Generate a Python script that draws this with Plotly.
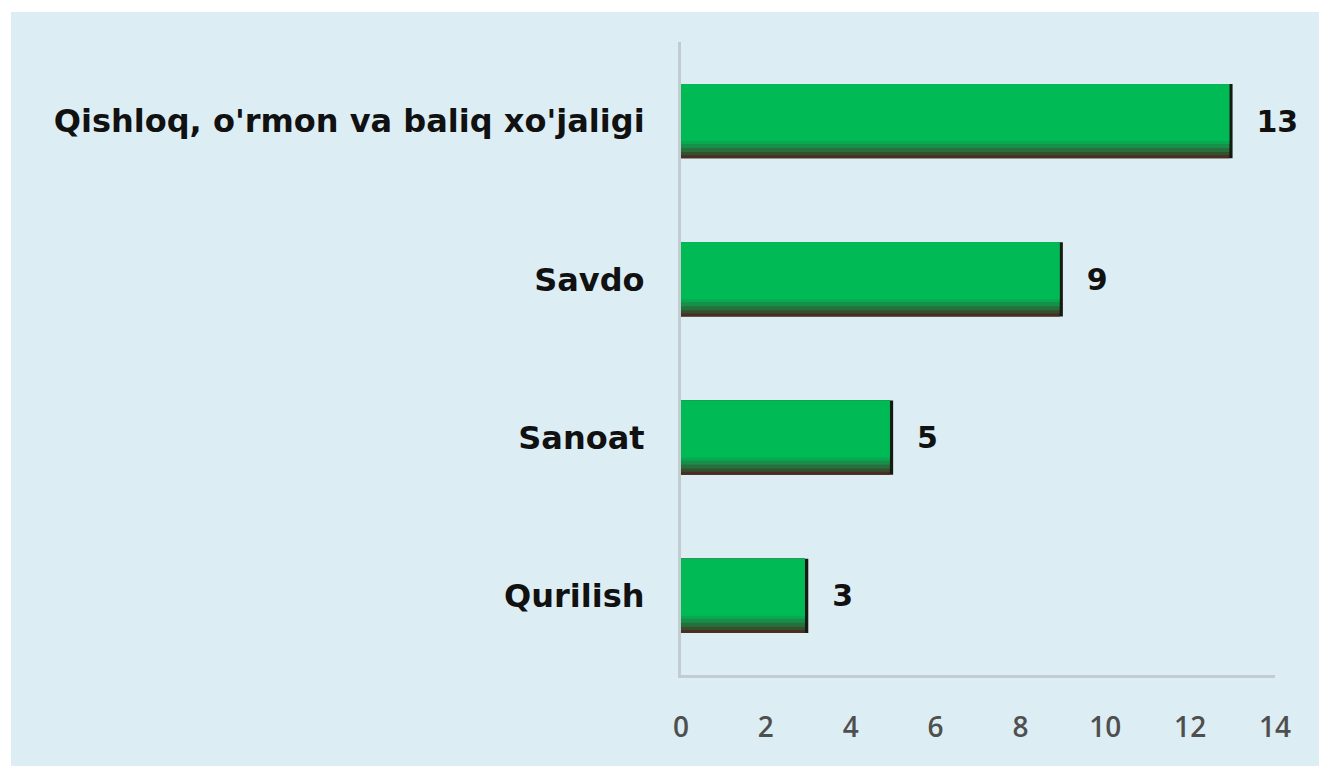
import plotly.graph_objects as go

# data
categories = ["Qishloq, o'rmon va baliq xo'jaligi", "Savdo", "Sanoat", "Qurilish"]
values = [13, 9, 5, 3]
x_ticks = [0, 2, 4, 6, 8, 10, 12, 14]

W, H = 1319, 766
M = dict(l=681, r=44, t=42, b=91)
PANEL = "#dceef4"
BAR_W = 0.47
EDGE = 0.08  # dark right edge, in axis units

# layered bars give the bevelled look: dark edge, brown bottom, green face
layers = [
    ("#151a12", 0.0, BAR_W),
    ("#4b2d22", EDGE, BAR_W),
    ("#33502f", EDGE, 0.45),
    ("#27703e", EDGE, 0.43),
    ("#168f49", EDGE, 0.405),
    ("#08a951", EDGE, 0.38),
    ("#00bb55", EDGE, 0.36),
]

fig = go.Figure()
for i, (color, cut, width) in enumerate(layers):
    fig.add_trace(go.Bar(
        x=[v - cut for v in values],
        y=categories,
        orientation="h",
        width=width,
        offset=-BAR_W / 2,
        marker=dict(color=color, line=dict(width=0)),
        text=[f"\u00a0\u00a0{v}" for v in values] if i == 0 else None,
        textposition="outside" if i == 0 else "none",
        textfont=dict(family="DejaVu Sans", size=30, weight="bold", color="#111111"),
        cliponaxis=False,
        hoverinfo="skip",
        showlegend=False,
    ))

pw = W - M["l"] - M["r"]
ph = H - M["t"] - M["b"]
fig.add_shape(
    type="rect", xref="paper", yref="paper", layer="below",
    x0=(11 - M["l"]) / pw, x1=(W - M["l"]) / pw,
    y0=(H - M["b"] - H) / ph, y1=(H - M["b"] - 12) / ph,
    fillcolor=PANEL, line=dict(width=0),
)

fig.update_layout(
    width=W,
    height=H,
    margin=M,
    barmode="overlay",
    paper_bgcolor="white",
    plot_bgcolor="rgba(0,0,0,0)",
    xaxis=dict(
        range=[0, 14],
        tickvals=x_ticks,
        showgrid=False,
        zeroline=False,
        showline=True,
        linecolor="#c3ccd0",
        linewidth=3,
        ticks="",
        ticklabelstandoff=25,
        tickfont=dict(family="Open Sans", size=28, weight=600, color="#4f4f4f"),
    ),
    yaxis=dict(
        type="category",
        range=[3.5, -0.5],
        showgrid=False,
        zeroline=False,
        showline=True,
        linecolor="#c3ccd0",
        linewidth=3,
        ticks="",
        ticklabelstandoff=27,
        tickfont=dict(family="DejaVu Sans", size=32, weight="bold", color="#111111"),
    ),
)

fig.write_html(
    "out.html",
    config={"displayModeBar": False},
    post_script="document.body.style.margin = '0';",
)
